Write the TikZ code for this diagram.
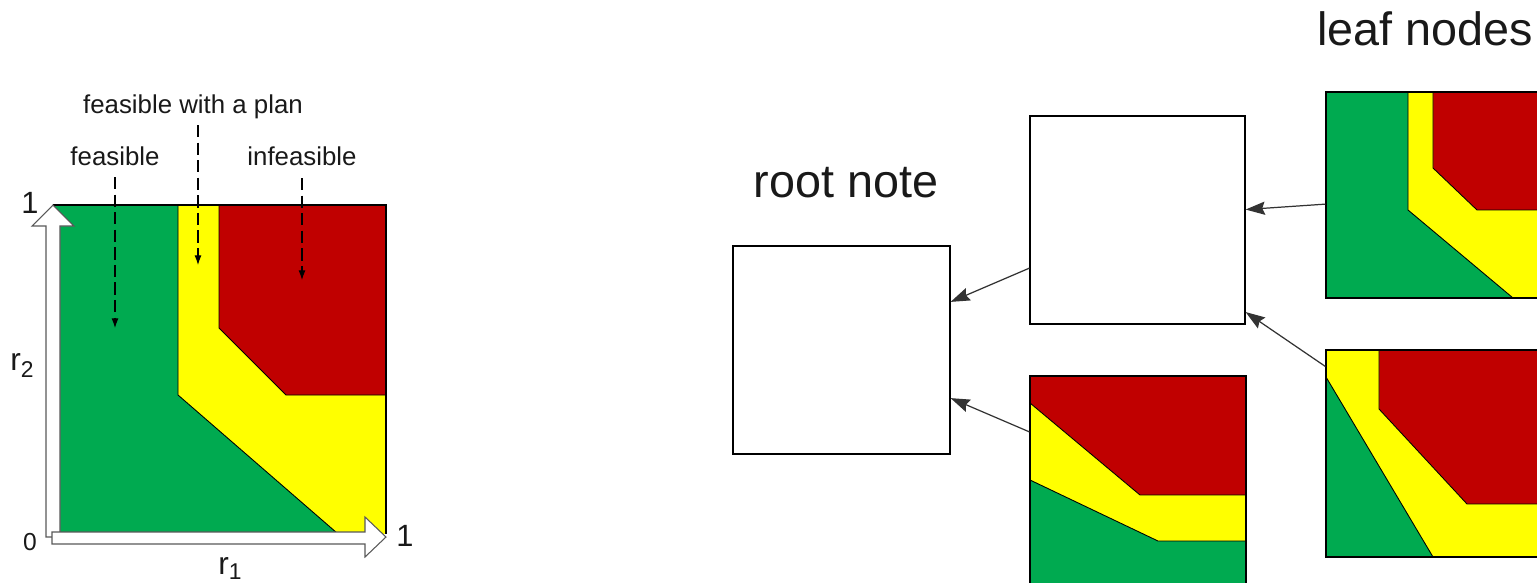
\documentclass[tikz,border=0pt]{standalone}
\usepackage{fontspec}
\setmainfont{Liberation Sans}
\usetikzlibrary{arrows.meta,calc}
\definecolor{fgreen}{HTML}{00AA50}
\definecolor{fred}{HTML}{C00000}
\definecolor{fyellow}{HTML}{FFFF00}
\begin{document}
\begin{tikzpicture}[x=0.02cm,y=-0.02cm,
  region/.style={draw=black,line width=0.5pt,line join=miter},
  box/.style={draw=black,line width=0.7pt,inner sep=0pt},
  link/.style={draw=black!80,line width=0.7pt,-{Stealth[length=11pt,width=7.5pt,inset=1.5pt]}},
  dasharrow/.style={draw=black,line width=0.6pt,dash pattern=on 7pt off 3pt,-{Latex[length=5.5pt,width=4pt]}},
  lbl/.style={inner sep=0pt,text=black!90},
  small/.style={lbl,font=\fontsize{14.7}{17}\selectfont},
  big/.style={lbl,font=\fontsize{26.6}{30}\selectfont},
  axis/.style={draw=black!65,fill=white,line width=0.6pt,line join=miter}]

\useasboundingbox (0,0) rectangle (1537,582);

% ---------- left panel ----------
\fill[fyellow] (53,205) rectangle (386,534);
\filldraw[fill=fgreen,region] (53,205) -- (178,205) -- (178,395) -- (337,533) -- (53,533) -- cycle;
\filldraw[fill=fred,region] (219,205) -- (386,205) -- (386,395) -- (286,395) -- (219,328) -- cycle;
\draw[line width=0.7pt] (53,205) -- (386,205) -- (386,534);

% axes (fat arrows)
\filldraw[axis] (46,537) -- (46,226) -- (32,226) -- (53,205) -- (74,226) -- (60,226) -- (60,537) -- cycle;
\filldraw[axis] (52,532) -- (365,532) -- (365,517) -- (386,537) -- (365,557) -- (365,544) -- (52,544) -- cycle;

\node[lbl,anchor=base,font=\fontsize{17.5}{20}\selectfont] (ytop) at (30,213) {1};
\node[lbl,anchor=base,font=\fontsize{14}{16}\selectfont] (origin) at (30,550) {0};
\node[lbl,anchor=base,font=\fontsize{17.5}{20}\selectfont] (xtop) at (405,546) {1};
\node[lbl,anchor=base west,font=\fontsize{18}{20}\selectfont] (r2) at (10,370) {r\raisebox{-4pt}{\fontsize{13}{13}\selectfont 2}};
\node[lbl,anchor=base west,font=\fontsize{18}{20}\selectfont] (r1) at (218,574) {r\raisebox{-3pt}{\fontsize{13}{13}\selectfont 1}};

% region labels
\node[small,anchor=base] (lplan) at (193,113) {feasible with a plan};
\node[small,anchor=base] (lfeas) at (115,165) {feasible};
\node[small,anchor=base] (linf) at (302,165) {infeasible};
\coordinate (pfeas) at (115,328);
\coordinate (pplan) at (198,265);
\coordinate (pinf) at (302,280);
\draw[dasharrow] ($(lfeas.base -| pfeas)+(0,12)$) -- (pfeas);
\draw[dasharrow] ($(lplan.base -| pplan)+(0,12)$) -- (pplan);
\draw[dasharrow] ($(linf.base -| pinf)+(0,13)$) -- (pinf);

% ---------- right panel ----------
% mid-bottom
\fill[fred] (1030,376) rectangle (1246,584);
\filldraw[fill=fyellow,region] (1030,403) -- (1140,495) -- (1246,495) -- (1246,584) -- (1030,584) -- cycle;
\filldraw[fill=fgreen,region] (1030,480) -- (1158,541) -- (1246,541) -- (1246,584) -- (1030,584) -- cycle;
% leaf top
\fill[fred] (1326,92) rectangle (1542,298);
\filldraw[fill=fyellow,region] (1326,92) -- (1433,92) -- (1433,168) -- (1477,210) -- (1542,210) -- (1542,298) -- (1326,298) -- cycle;
\filldraw[fill=fgreen,region] (1326,92) -- (1408,92) -- (1408,210) -- (1513,298) -- (1326,298) -- cycle;
% leaf bottom
\fill[fred] (1326,350) rectangle (1542,557);
\filldraw[fill=fyellow,region] (1326,350) -- (1379,350) -- (1379,409) -- (1467,504) -- (1542,504) -- (1542,557) -- (1326,557) -- cycle;
\filldraw[fill=fgreen,region] (1326,377) -- (1433,557) -- (1326,557) -- cycle;

\node[box,minimum width=4.34cm,minimum height=4.16cm] (root) at (841.5,350) {};
\node[box,minimum width=4.30cm,minimum height=4.16cm] (midtop) at (1137.5,220) {};
\node[box,minimum width=4.32cm,minimum height=4.16cm] (midbot) at (1138,480) {};
\node[box,minimum width=4.32cm,minimum height=4.12cm] (leaftop) at (1434,195) {};
\node[box,minimum width=4.32cm,minimum height=4.14cm] (leafbot) at (1434,453.5) {};

\node[big,anchor=base] (leaflbl) at (1425,45) {leaf nodes};
\node[big,anchor=base] (rootlbl) at (846,197) {root note};

\draw[link] ($(leaftop.north west)!0.544!(leaftop.south west)$) -- ($(midtop.north east)!0.45!(midtop.south east)$);
\draw[link] ($(leafbot.north west)!0.082!(leafbot.south west)$) -- ($(midtop.north east)!0.94!(midtop.south east)$);
\draw[link] ($(midtop.north west)!0.73!(midtop.south west)$) -- ($(root.north east)!0.27!(root.south east)$);
\draw[link] ($(midbot.north west)!0.27!(midbot.south west)$) -- ($(root.north east)!0.73!(root.south east)$);
\end{tikzpicture}
\end{document}
